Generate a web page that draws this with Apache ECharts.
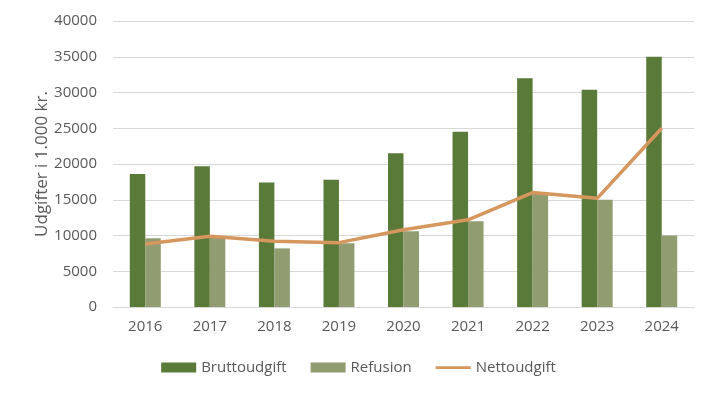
<!DOCTYPE html>
<html>
<head>
<meta charset="utf-8">
<script src="https://cdn.jsdelivr.net/npm/echarts@6/dist/echarts.min.js"></script>
<style>html,body{margin:0;padding:0;background:#fff}#c{width:717px;height:397px}</style>
</head>
<body>
<div id="c"></div>
<script>
const years = ['2016','2017','2018','2019','2020','2021','2022','2023','2024'];
const bruttoudgift = [18600, 19700, 17400, 17800, 21500, 24500, 32000, 30400, 35000];
const refusion = [9600, 9700, 8200, 8900, 10600, 12000, 15800, 15000, 10000];
const nettoudgift = [8800, 9900, 9200, 9000, 10800, 12200, 16000, 15200, 25000];

const font = '"Open Sans", sans-serif';
const txt = '#595959';
const chart = echarts.init(document.getElementById('c'));
chart.setOption({
  animation: false,
  textStyle: {fontFamily: font},
  grid: {left: 113, right: 23, top: 21, bottom: 90},
  legend: {
    bottom: 17, left: 'center', itemWidth: 35, itemHeight: 10, itemGap: 24,
    textStyle: {fontFamily: font, fontSize: 15, color: txt},
    data: [
      {name: 'Bruttoudgift', icon: 'rect'},
      {name: 'Refusion', icon: 'rect'},
      {name: 'Nettoudgift', icon: 'path://M0,0L0.01,0L0,0.01Z M0,3.8L35,3.8L35,6.6L0,6.6Z M35,10L34.99,10L35,9.99Z'}
    ]
  },
  xAxis: {
    type: 'category', data: years,
    axisLine: {lineStyle: {color: '#d9d9d9', width: 1}},
    axisTick: {show: false},
    axisLabel: {color: txt, fontSize: 15, margin: 12, fontFamily: font}
  },
  yAxis: {
    type: 'value', min: 0, max: 40000, interval: 5000,
    name: 'Udgifter i 1.000 kr.', nameLocation: 'middle', nameGap: 62, nameRotate: 90,
    nameMoveOverlap: false,
    nameTextStyle: {color: txt, fontSize: 17, fontFamily: font},
    axisLine: {show: false}, axisTick: {show: false},
    axisLabel: {color: txt, fontSize: 15, margin: 16, fontFamily: font, formatter: v => String(v)},
    splitLine: {lineStyle: {color: '#d9d9d9', width: 1}}
  },
  series: [
    {name: 'Bruttoudgift', type: 'bar', data: bruttoudgift, barWidth: '24%', barGap: '0%',
     itemStyle: {color: '#5a7a3a'}},
    {name: 'Refusion', type: 'bar', data: refusion, barWidth: '24%',
     itemStyle: {color: '#919c71'}},
    {name: 'Nettoudgift', type: 'line', data: nettoudgift, symbol: 'none', smooth: false,
     lineStyle: {color: '#d5975e', width: 3.5}, itemStyle: {color: '#d5975e'}}
  ]
});
</script>
</body>
</html>
